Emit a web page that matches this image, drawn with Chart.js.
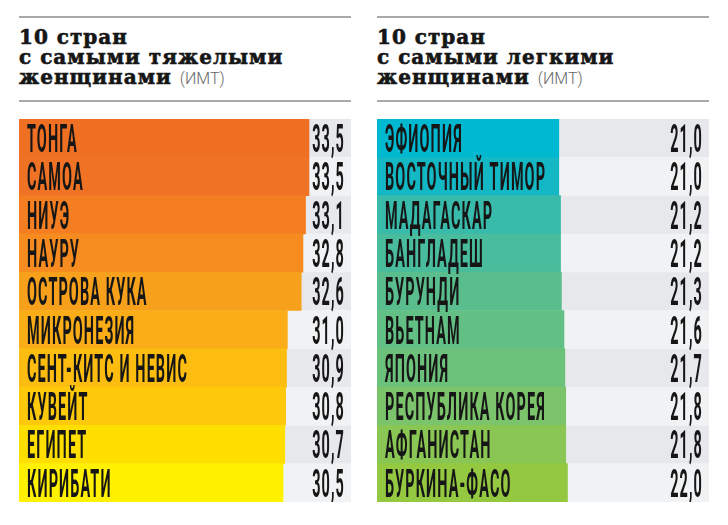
<!DOCTYPE html>
<html>
<head>
<meta charset="utf-8">
<script src="https://cdn.jsdelivr.net/npm/chart.js@4"></script>
<style>
  html, body { margin: 0; padding: 0; background: #fff; }
  body { width: 728px; height: 525px; position: relative; overflow: hidden; }
  .rule { position: absolute; height: 2px; background: #a9a9a9; }
  .title { position: absolute; font: bold 20px "DejaVu Serif", serif; line-height: 20px; color: #161616;
           letter-spacing: 1px; -webkit-text-stroke: 0.6px #161616; }
  .title span { font: 300 16px Roboto, sans-serif; color: #666; letter-spacing: 0; -webkit-text-stroke: 0; }
  .box { position: absolute; top: 119px; width: 332px; height: 383px; }
</style>
</head>
<body>
<div class="rule" style="left:19px; top:16px; width:332px"></div>
<div class="rule" style="left:377px; top:16px; width:332px"></div>
<div class="title" style="left:19px; top:27px">10 стран<br>с самыми тяжелыми<br>женщинами <span>(ИМТ)</span></div>
<div class="title" style="left:377px; top:27px">10 стран<br>с самыми легкими<br>женщинами <span>(ИМТ)</span></div>
<div class="rule" style="left:19px; top:100px; width:332px"></div>
<div class="rule" style="left:377px; top:100px; width:332px"></div>
<div class="box" style="left:19px"><canvas id="heavy" width="332" height="383"></canvas></div>
<div class="box" style="left:377px"><canvas id="light" width="332" height="383"></canvas></div>
<script>
const heavyCountries = ['ТОНГА', 'САМОА', 'НИУЭ', 'НАУРУ', 'ОСТРОВА КУКА', 'МИКРОНЕЗИЯ', 'СЕНТ-КИТС И НЕВИС', 'КУВЕЙТ', 'ЕГИПЕТ', 'КИРИБАТИ'];
const heavyBmi = [33.5, 33.5, 33.1, 32.8, 32.6, 31.0, 30.9, 30.8, 30.7, 30.5];
const heavyColors = ['#f07023', '#f07225', '#f47e21', '#f68b1f', '#f7a01b', '#faad17', '#fdbd10', '#fec90a', '#ffdf00', '#fff100'];

const lightCountries = ['ЭФИОПИЯ', 'ВОСТОЧНЫЙ ТИМОР', 'МАДАГАСКАР', 'БАНГЛАДЕШ', 'БУРУНДИ', 'ВЬЕТНАМ', 'ЯПОНИЯ', 'РЕСПУБЛИКА КОРЕЯ', 'АФГАНИСТАН', 'БУРКИНА-ФАСО'];
const lightBmi = [21.0, 21.0, 21.2, 21.2, 21.3, 21.6, 21.7, 21.8, 21.8, 22.0];
const lightColors = ['#00b8d0', '#14b7c4', '#38bbaa', '#48bc9c', '#59bd8d', '#63c085', '#6dc27b', '#7bc46b', '#89c653', '#93c840'];

const rowShades = ['#e6e8eb', '#f0f2f4'];
const AXIS_MAX = 38.35;
const FONT_PX = 39;

// squeeze text horizontally to get the tall condensed look of the original
function condensedText(ctx, text, x, y, align) {
    ctx.save();
    ctx.translate(x, y);
    ctx.scale(0.37, 1);
    ctx.textAlign = align;
    ctx.textBaseline = 'alphabetic';
    ctx.fillText(text, 0, 0);
    ctx.restore();
}

const rowsPlugin = {
    id: 'rows',
    beforeDatasetsDraw(chart) {
        const { ctx, chartArea, scales: { y } } = chart;
        const n = chart.data.labels.length;
        const step = (chartArea.bottom - chartArea.top) / n;
        ctx.save();
        chart.data.labels.forEach((_, i) => {
            const cy = y.getPixelForValue(i);
            ctx.fillStyle = rowShades[i % 2];
            ctx.fillRect(chartArea.left, cy - step / 2, chartArea.right - chartArea.left, step);
        });
        ctx.restore();
    },
    afterDatasetsDraw(chart) {
        const { ctx, chartArea, scales: { y } } = chart;
        const values = chart.data.datasets[0].data;
        ctx.save();
        ctx.fillStyle = '#161616';
        ctx.font = `bold ${FONT_PX}px Roboto`;
        ctx.letterSpacing = '3px';
        const half = FONT_PX * 0.711 / 2;
        chart.data.labels.forEach((label, i) => {
            const base = y.getPixelForValue(i) + half;
            condensedText(ctx, label, chartArea.left + 8, base, 'left');
            condensedText(ctx, values[i].toFixed(1).replace('.', ','), chartArea.right - 6, base, 'right');
        });
        ctx.restore();
    }
};

function makeChart(id, labels, values, colors) {
    return new Chart(document.getElementById(id), {
        type: 'bar',
        data: {
            labels,
            datasets: [{ data: values, backgroundColor: colors, borderWidth: 0, categoryPercentage: 1, barPercentage: 1 }]
        },
        options: {
            indexAxis: 'y',
            responsive: false,
            animation: false,
            devicePixelRatio: 1,
            layout: { padding: 0 },
            scales: {
                x: { display: false, min: 0, max: AXIS_MAX },
                y: { display: false }
            },
            plugins: { legend: { display: false }, tooltip: { enabled: false } }
        },
        plugins: [rowsPlugin]
    });
}

makeChart('heavy', heavyCountries, heavyBmi, heavyColors);
makeChart('light', lightCountries, lightBmi, lightColors);
</script>
</body>
</html>
